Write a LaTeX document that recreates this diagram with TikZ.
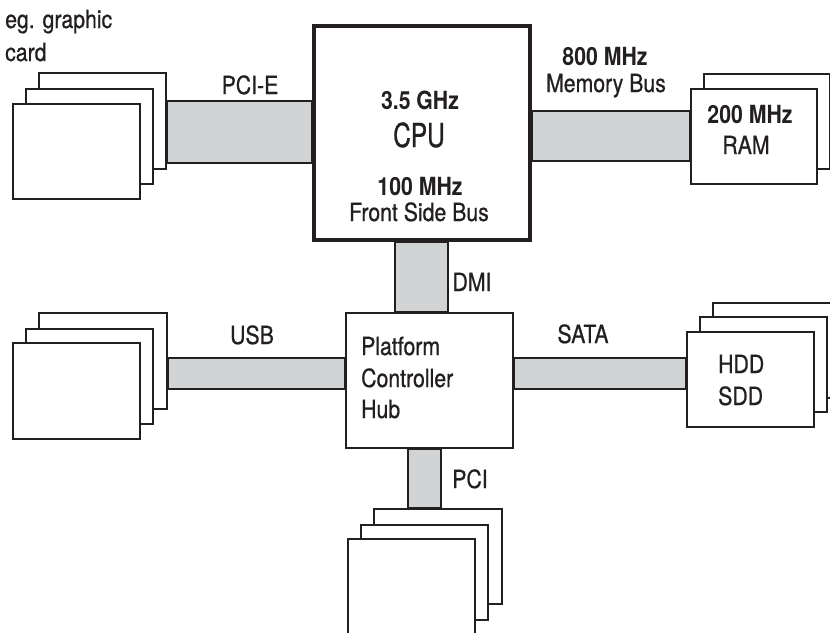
\documentclass[tikz,border=0pt]{standalone}
\usepackage{fontspec}
\setmainfont{TeX Gyre Heros}[FakeStretch=0.85]
\newfontfamily\regfont{TeX Gyre Heros}[FakeStretch=0.85, FakeBold=0.7]
\newfontfamily\cpufont{TeX Gyre Heros}[FakeStretch=0.74, FakeBold=0.8]
\usetikzlibrary{backgrounds}
\definecolor{busgray}{HTML}{D1D3D4}
\definecolor{ink}{HTML}{231F20}
\begin{document}
\begin{tikzpicture}[x=1pt,y=-1pt,
  box/.style={draw=ink, line width=2pt, fill=white, inner sep=0pt, anchor=north west},
  cpubox/.style={draw=ink, line width=4.2pt, fill=white, inner sep=0pt, anchor=north west},
  bus/.style={draw=ink, line width=2pt, fill=busgray},
  lbl/.style={inner sep=0pt, anchor=base, text=ink, font=\regfont\fontsize{25}{29}\selectfont},
  blbl/.style={inner sep=0pt, anchor=base, text=ink, font=\fontsize{25}{29}\selectfont\bfseries},
  biglbl/.style={inner sep=0pt, anchor=base, text=ink, font=\cpufont\fontsize{33}{37}\selectfont}]
\path[use as bounding box] (0,0) rectangle (830,632);
\clip (0,0) rectangle (830,632);

% graphic card stack
\node[box, minimum width=127, minimum height=96] (gcA) at (38,72) {};
\node[box, minimum width=127, minimum height=95] (gcB) at (25,88) {};
\node[box, minimum width=127, minimum height=95] (gcC) at (12,103) {};

% CPU
\node[cpubox, minimum width=216, minimum height=214] (cpu) at (312,24) {};

% RAM stack
\node[box, minimum width=126, minimum height=95] (ramA) at (703,73) {};
\node[box, minimum width=126, minimum height=95] (ramB) at (690,88) {};

% PCH
\node[box, minimum width=167, minimum height=135] (pch) at (345,312) {};

% USB stack
\node[box, minimum width=128, minimum height=96] (usbA) at (38,312) {};
\node[box, minimum width=127, minimum height=95] (usbB) at (25,328) {};
\node[box, minimum width=127, minimum height=96] (usbC) at (12,342) {};

% HDD stack
\node[box, minimum width=127, minimum height=95] (hddA) at (712,302) {};
\node[box, minimum width=127, minimum height=95] (hddB) at (699,316) {};
\node[box, minimum width=127, minimum height=95] (hddC) at (686,331) {};

% PCI stack
\node[box, minimum width=128, minimum height=95] (pciA) at (373,508) {};
\node[box, minimum width=127, minimum height=95] (pciB) at (360,524) {};
\node[box, minimum width=127, minimum height=110] (pciC) at (347,538) {};

% buses
\begin{scope}[on background layer]
\draw[bus] (gcA.east |- 0,101) rectangle (cpu.west |- 0,163);
\draw[bus] (cpu.east |- 0,111) rectangle (ramB.west |- 0,161);
\draw[bus] (395,0 |- cpu.south) rectangle (448,0 |- pch.north);
\draw[bus] (usbA.east |- 0,358) rectangle (pch.west |- 0,389);
\draw[bus] (pch.east |- 0,358) rectangle (hddC.west |- 0,389);
\draw[bus] (408,0 |- pch.south) rectangle (441,0 |- pciA.north);
\end{scope}

% labels
\node[lbl, anchor=base west] (lgc1) at (5,28) {eg. graphic};
\node[lbl, anchor=base west] (lgc2) at (5,61) {card};
\node[lbl] (lpcie) at (250,94) {PCI-E};
\node[blbl] (lghz) at (420,109) {3.5 GHz};
\node[biglbl] (lcpu) at (419,147) {CPU};
\node[blbl] (lfsb1) at (420,195) {100 MHz};
\node[lbl] (lfsb2) at (419,221) {Front Side Bus};
\node[blbl] (lmem1) at (605,65) {800 MHz};
\node[lbl] (lmem2) at (606,92) {Memory Bus};
\node[blbl] (lram1) at (750,123) {200 MHz};
\node[lbl] (lram2) at (746,154) {RAM};
\node[lbl] (ldmi) at (472,291) {DMI};
\node[lbl] (lusb) at (252,344) {USB};
\node[lbl, anchor=base west] (lpch1) at (361,355) {Platform};
\node[lbl, anchor=base west] (lpch2) at (361,387) {Controller};
\node[lbl, anchor=base west] (lpch3) at (361,418) {Hub};
\node[lbl] (lsata) at (583,343) {SATA};
\node[lbl, anchor=base west] (lhdd1) at (718,373) {HDD};
\node[lbl, anchor=base west] (lhdd2) at (718,405) {SDD};
\node[lbl] (lpci) at (470,488) {PCI};
\end{tikzpicture}
\end{document}
